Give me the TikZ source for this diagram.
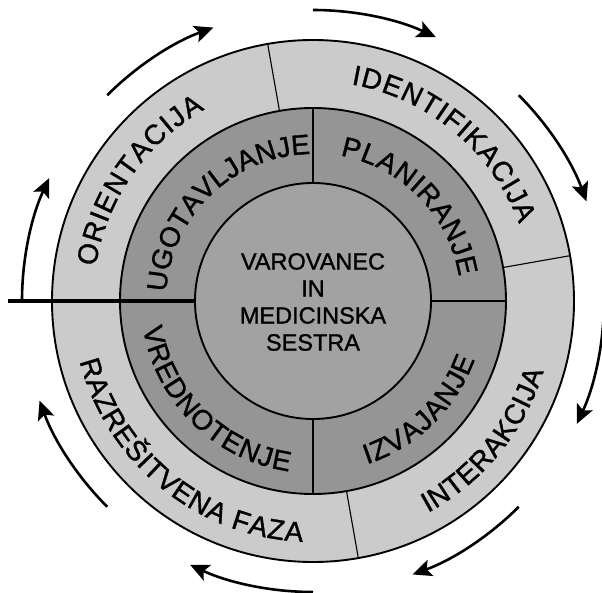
\documentclass[tikz,border=0pt]{standalone}
\usepackage{fontspec}
\setmainfont{Liberation Sans}
\newfontfamily\scanfont[FakeBold=1.2]{Liberation Sans}
\usetikzlibrary{decorations.text,arrows.meta}
\definecolor{outerc}{HTML}{CBCBCB}
\definecolor{midc}{HTML}{959595}
\definecolor{innerc}{HTML}{A2A2A2}
\newcommand\ringfont{\scanfont\fontsize{28}{28}\selectfont}
\newcommand\centerfont{\scanfont\fontsize{23.5}{27}\selectfont}
\begin{document}
\begin{tikzpicture}[x=1pt,y=1pt,
  ringline/.style={line width=1.9pt},
  divider/.style={line width=1.1pt},
  cyclearrow/.style={line width=2.6pt,-{Stealth[length=19pt,width=17pt,inset=4pt]}},
  ringtext/.style={decorate,decoration={text along path,text align=fit to path,text={|\ringfont|#1}}}
]
\useasboundingbox (-313,-291) rectangle (289,301);
% rings
\fill[outerc] (0,0) circle (261);
\fill[midc] (0,0) circle (193);
\fill[innerc] (0,0) circle (118);
\draw[ringline] (0,0) circle (261) (0,0) circle (193) (0,0) circle (118);
% dividers middle ring
\draw[divider] (90:118) -- (90:193);
\draw[divider] (-90:118) -- (-90:193);
\draw[divider] (0:118) -- (0:193);
% dividers outer ring
\draw[divider] (100:193) -- (100:261);
\draw[divider] (10:193) -- (10:261);
\draw[divider] (-80:193) -- (-80:261);
% thick start line
\coordinate (linestart) at (-305,0);
\draw[line width=4pt] (linestart) -- (180:118);
% ring texts
\path[ringtext={ORIENTACIJA}] (171:220) arc[start angle=171,end angle=119.5,radius=220];
\path[ringtext={IDENTIFIKACIJA}] (80:220) arc[start angle=80,end angle=20.5,radius=220];
\path[ringtext={RAZREŠITVENA FAZA}] (194.5:241) arc[start angle=194.5,end angle=267.5,radius=241];
\path[ringtext={INTERAKCIJA}] (-61.5:241) arc[start angle=-61.5,end angle=-17,radius=241];
\path[ringtext={UGOTAVLJANJE}] (176.5:147) arc[start angle=176.5,end angle=92.4,radius=147];
\path[ringtext={PLANIRANJE}] (79.4:148) arc[start angle=79.4,end angle=9.5,radius=148];
\path[ringtext={VREDNOTENJE}] (189:172) arc[start angle=189,end angle=262,radius=172];
\path[ringtext={IZVAJANJE}] (-71.7:172) arc[start angle=-71.7,end angle=-19.9,radius=172];
% centre
\node[align=center,font=\centerfont,inner sep=0pt] (centre) at (0,-1) {VAROVANEC\\IN\\MEDICINSKA\\SESTRA};
% cycle arrows
\foreach \a in {90,45,0,-45,-90,-135,180,135}
  \draw[cyclearrow] (\a:291) arc[start angle=\a,end angle=\a-25,radius=291];
\end{tikzpicture}
\end{document}
